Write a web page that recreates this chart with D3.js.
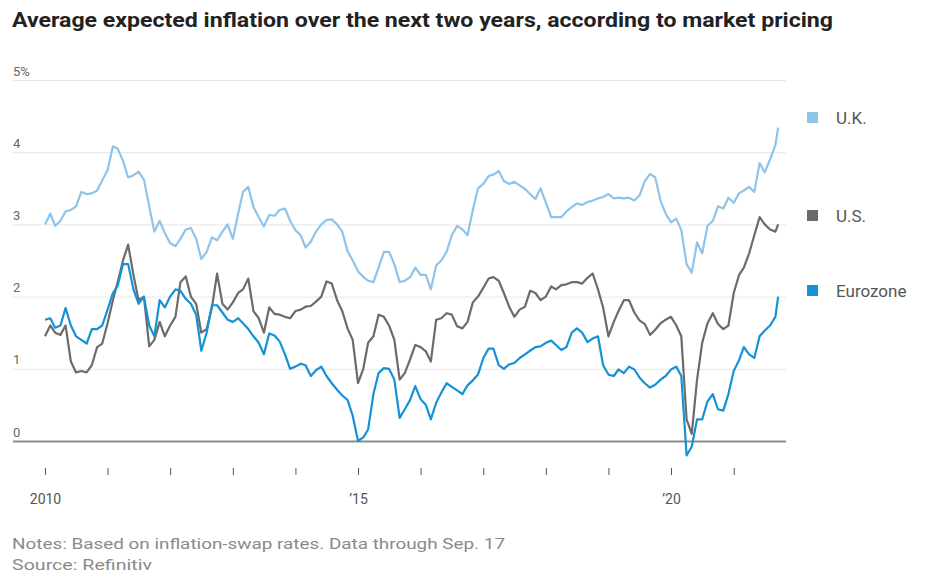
<!DOCTYPE html>
<html>
<head>
<meta charset="utf-8">
<script src="https://cdn.jsdelivr.net/npm/d3@7"></script>
<style>
  html, body { margin: 0; padding: 0; background: #fff; }
  svg { display: block; }
  text { font-family: "Liberation Sans Narrow", "Roboto", "Liberation Sans", sans-serif; }
</style>
</head>
<body>
<svg id="chart" width="944" height="575"></svg>
<script>
// ---- Data ----
const title = "Average expected inflation over the next two years, according to market pricing";
const noteText = "Notes: Based on inflation-swap rates. Data through Sep. 17";
const sourceText = "Source: Refinitiv";

const seriesNames = ["U.K.", "U.S.", "Eurozone"];
const yTicks = [0, 1, 2, 3, 4, 5];
const xTickYears = [2010, 2011, 2012, 2013, 2014, 2015, 2016, 2017, 2018, 2019, 2020, 2021];
const xTickLabels = {2010: "2010", 2015: "\u201915", 2020: "\u201920"};

// Monthly observations Jan 2010 – Sep 2021, plus last reading on Sep 17, 2021
const lastDate = new Date(2021, 8, 17);

const ukValues = [
  3.0, 3.15, 2.98, 3.05, 3.18, 3.2, 3.25, 3.45, 3.42, 3.43, 3.47, 3.61,
  3.75, 4.08, 4.05, 3.88, 3.65, 3.68, 3.73, 3.62, 3.25, 2.9, 3.05, 2.88,
  2.74, 2.7, 2.8, 2.93, 2.95, 2.8, 2.52, 2.62, 2.82, 2.78, 2.9, 3.0,
  2.8, 3.15, 3.45, 3.52, 3.24, 3.1, 2.97, 3.13, 3.12, 3.2, 3.22, 3.05,
  2.92, 2.85, 2.68, 2.76, 2.9, 3.0, 3.06, 3.07, 3.0, 2.9, 2.63, 2.5,
  2.35, 2.27, 2.22, 2.2, 2.4, 2.62, 2.62, 2.45, 2.2, 2.22, 2.27, 2.4,
  2.3, 2.3, 2.1, 2.43, 2.5, 2.62, 2.85, 2.98, 2.93, 2.85, 3.2, 3.5,
  3.56, 3.67, 3.69, 3.74, 3.6, 3.56, 3.59, 3.54, 3.49, 3.42, 3.35, 3.5,
  3.3, 3.1, 3.1, 3.1, 3.18, 3.24, 3.29, 3.27, 3.31, 3.33, 3.36, 3.38,
  3.42, 3.36, 3.37, 3.36, 3.37, 3.33, 3.4, 3.6, 3.7, 3.65, 3.33, 3.15,
  3.03, 3.08, 2.92, 2.45, 2.33, 2.75, 2.6, 2.98, 3.05, 3.25, 3.22, 3.37,
  3.3, 3.43, 3.47, 3.52, 3.45, 3.85, 3.72, 3.9, 4.1,
  4.34
];

const usValues = [
  1.45, 1.6, 1.5, 1.47, 1.6, 1.1, 0.95, 0.97, 0.95, 1.05, 1.3, 1.35,
  1.63, 1.95, 2.2, 2.5, 2.72, 2.3, 1.95, 2.0, 1.31, 1.4, 1.65, 1.45,
  1.6, 1.72, 2.2, 2.28, 2.0, 1.9, 1.5, 1.55, 1.85, 2.32, 1.9, 1.82,
  1.92, 2.05, 2.1, 2.25, 1.8, 1.7, 1.5, 1.85, 1.76, 1.75, 1.72, 1.7,
  1.8, 1.82, 1.86, 1.87, 1.93, 2.0, 2.21, 2.18, 1.95, 1.8, 1.56, 1.4,
  0.8, 1.0, 1.36, 1.45, 1.75, 1.72, 1.6, 1.4, 0.85, 0.94, 1.13, 1.33,
  1.3, 1.24, 1.1, 1.68, 1.7, 1.77, 1.75, 1.59, 1.56, 1.65, 1.92, 2.0,
  2.12, 2.25, 2.27, 2.22, 2.05, 1.86, 1.72, 1.82, 1.86, 2.08, 2.05, 1.95,
  2.0, 2.14, 2.1, 2.16, 2.17, 2.2, 2.2, 2.18, 2.26, 2.32, 2.1, 1.85,
  1.45, 1.65, 1.8, 1.95, 1.95, 1.78, 1.67, 1.62, 1.47, 1.54, 1.63, 1.68,
  1.72, 1.6, 1.45, 0.3, 0.1, 0.85, 1.36, 1.63, 1.77, 1.62, 1.55, 1.6,
  2.05, 2.3, 2.4, 2.6, 2.85, 3.1, 3.0, 2.93, 2.9,
  3.0
];

const ezValues = [
  1.68, 1.7, 1.57, 1.6, 1.84, 1.6, 1.45, 1.4, 1.35, 1.55, 1.55, 1.6,
  1.82, 2.05, 2.15, 2.45, 2.45, 2.1, 1.9, 2.0, 1.6, 1.45, 1.95, 1.85,
  2.0, 2.1, 2.08, 1.97, 1.9, 1.75, 1.25, 1.5, 1.88, 1.88, 1.78, 1.68,
  1.65, 1.7, 1.63, 1.55, 1.45, 1.36, 1.2, 1.49, 1.46, 1.38, 1.2, 1.0,
  1.03, 1.07, 1.05, 0.9, 0.98, 1.03, 0.9, 0.8, 0.71, 0.63, 0.57, 0.35,
  0.0, 0.05, 0.16, 0.65, 0.94, 1.01, 1.0, 0.85, 0.32, 0.44, 0.57, 0.76,
  0.58, 0.5, 0.3, 0.53, 0.67, 0.8, 0.75, 0.7, 0.65, 0.77, 0.84, 0.92,
  1.15, 1.28, 1.28, 1.05, 1.0, 1.06, 1.08, 1.15, 1.2, 1.25, 1.3, 1.31,
  1.36, 1.39, 1.33, 1.26, 1.3, 1.5, 1.56, 1.5, 1.37, 1.42, 1.45, 1.05,
  0.92, 0.9, 0.99, 0.94, 1.03, 0.99, 0.88, 0.8, 0.74, 0.78, 0.85, 0.9,
  0.99, 1.03, 0.9, -0.2, -0.08, 0.3, 0.3, 0.55, 0.65, 0.44, 0.42, 0.65,
  0.97, 1.12, 1.3, 1.2, 1.15, 1.45, 1.53, 1.6, 1.72,
  2.0
];

const colors = ["#8ec4ea", "#6b6b6b", "#1592d6"];

// ---- Build ----
const months = d3.timeMonth.range(new Date(2010, 0, 1), new Date(2021, 9, 1));
const dates = months.concat([lastDate]);
const allSeries = [ukValues, usValues, ezValues].map((vals, i) => ({
  name: seriesNames[i],
  color: colors[i],
  points: vals.map((v, j) => ({date: dates[j], value: v}))
}));

const svg = d3.select("#chart");

const x = d3.scaleTime()
  .domain([new Date(2010, 0, 1), new Date(2020, 0, 1)])
  .range([45, 671]);
const y = d3.scaleLinear().domain([0, 5]).range([441, 80]);

// Title
svg.append("text")
  .attr("x", 12).attr("y", 27)
  .attr("font-size", 20).attr("font-weight", "bold")
  .attr("fill", "#222")
  .attr("textLength", 821).attr("lengthAdjust", "spacingAndGlyphs")
  .text(title);

// Y gridlines + labels
const yAxis = svg.append("g")
  .attr("transform", "translate(13,0)")
  .call(d3.axisRight(y).tickValues(yTicks).tickSize(773)
    .tickFormat(d => d === 5 ? "5%" : String(d)));
yAxis.select(".domain").remove();
yAxis.selectAll(".tick line")
  .attr("stroke", d => d === 0 ? "#8c8c8c" : "#e6e6e6")
  .attr("stroke-width", d => d === 0 ? 2 : 1);
yAxis.selectAll(".tick text")
  .attr("x", 0).attr("y", -5).attr("dy", null)
  .attr("text-anchor", "start")
  .attr("font-size", 13).attr("fill", "#666");

// X axis ticks + labels
const xAxis = svg.append("g")
  .attr("transform", "translate(0,468)")
  .call(d3.axisBottom(x)
    .tickValues(xTickYears.map(yr => new Date(yr, 0, 1)))
    .tickSize(7).tickPadding(19)
    .tickFormat(d => xTickLabels[d.getFullYear()] || ""));
xAxis.select(".domain").remove();
xAxis.selectAll(".tick line").attr("stroke", "#555").attr("stroke-width", 1);
xAxis.selectAll(".tick text").attr("font-size", 14).attr("fill", "#555");

// Lines
const line = d3.line().x(d => x(d.date)).y(d => y(d.value)).curve(d3.curveLinear);
svg.append("g").selectAll("path")
  .data(allSeries)
  .join("path")
  .attr("fill", "none")
  .attr("stroke", d => d.color)
  .attr("stroke-width", 2.2)
  .attr("stroke-linejoin", "round")
  .attr("d", d => line(d.points));

// Legend
const legendY = [118, 216, 291];
const lg = svg.append("g").selectAll("g")
  .data(allSeries)
  .join("g")
  .attr("transform", (d, i) => `translate(807,${legendY[i]})`);
lg.append("rect").attr("x", 0).attr("y", -6).attr("width", 11).attr("height", 11)
  .attr("fill", d => d.color);
lg.append("text").attr("x", 29).attr("y", 6)
  .attr("font-size", 17).attr("fill", "#555")
  .text(d => d.name);

// Notes / source
svg.append("text")
  .attr("x", 12).attr("y", 549)
  .attr("font-size", 15).attr("fill", "#8a8a8a")
  .attr("textLength", 493).attr("lengthAdjust", "spacingAndGlyphs")
  .text(noteText);
svg.append("text")
  .attr("x", 12).attr("y", 570)
  .attr("font-size", 14).attr("fill", "#8a8a8a")
  .attr("textLength", 140).attr("lengthAdjust", "spacingAndGlyphs")
  .text(sourceText);
</script>
</body>
</html>
